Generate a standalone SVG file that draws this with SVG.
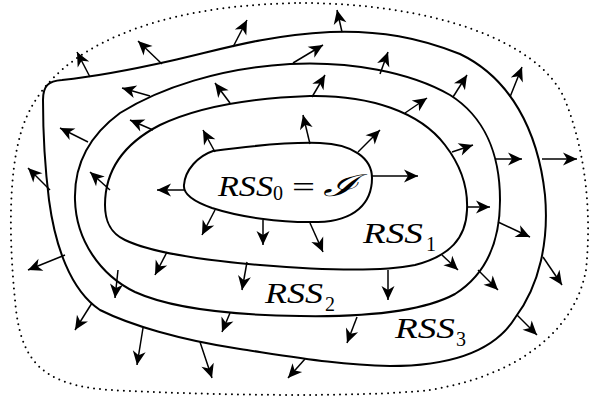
<svg xmlns="http://www.w3.org/2000/svg" width="589" height="399" viewBox="0 0 589 399">
<style>
.set{fill:none;stroke:#000;stroke-width:2;stroke-linejoin:round}
.bound{fill:none;stroke:#000;stroke-width:2;stroke-dasharray:0 6;stroke-linecap:round}
.arr line{stroke:#000;stroke-width:1.5;marker-end:url(#ah)}
.lbl{font-family:"Liberation Serif","DejaVu Serif",serif;font-style:italic;font-size:30px;fill:#000}
.sub{font-family:"Liberation Serif","DejaVu Serif",serif;font-size:20px;fill:#000}
.op{font-family:"Liberation Serif","DejaVu Serif",serif;font-size:30px;fill:#000}
</style>
<defs>
<marker id="ah" markerUnits="userSpaceOnUse" markerWidth="18" markerHeight="18" viewBox="-16 -9 18 18" refX="0" refY="0" orient="auto">
<path d="M0,0 L-14,-6.5 L-10,0 L-14,6.5 Z" fill="#000"/>
</marker>
</defs>
<rect width="589" height="399" fill="#fff"/>
<g id="boundary">
<path class="bound" d="M 300 3 C 430 3 540 40 565 100 C 585 150 592 210 586 270 C 575 330 520 375 430 390 C 360 398 200 395 110 390 C 40 385 20 360 15 300 C 8 230 8 150 30 110 C 60 50 150 5 300 3 Z"/>
</g>
<g id="rss3">
<path class="set" d="M 43 100 C 43 86 48 81 62 80 C 100 76 130 70 170 61 C 220 50 260 36 330 32 C 380 30 420 38 460 54 C 510 78 538 130 545 195 C 549 240 540 285 515 318 C 495 350 455 366 390 366 C 340 365 300 358 240 349 C 180 340 130 325 100 310 C 70 290 55 245 49 200 C 44 160 43 120 43 100 Z"/>
<text class="lbl" x="395" y="338" textLength="60" lengthAdjust="spacingAndGlyphs">RSS</text>
<text class="sub" x="456" y="346">3</text>
</g>
<g id="rss2">
<path class="set" d="M 75 200 C 74 168 86 138 120 113 C 160 88 220 68 290 64 C 350 61 410 72 450 95 C 485 117 500 155 500 200 C 500 245 485 275 455 294 C 420 313 360 317 300 316 C 230 315 170 308 135 292 C 100 275 76 240 75 200 Z"/>
<text class="lbl" x="265" y="303" textLength="58" lengthAdjust="spacingAndGlyphs">RSS</text>
<text class="sub" x="325" y="311">2</text>
</g>
<g id="rss1">
<path class="set" d="M 105 205 C 105 170 125 143 160 125 C 200 106 250 98 310 96 C 370 95 420 112 445 145 C 462 167 468 190 467 210 C 466 238 450 256 415 265 C 380 272 320 270 260 265 C 200 260 150 252 125 240 C 108 232 105 218 105 205 Z"/>
<text class="lbl" x="363" y="243" textLength="60" lengthAdjust="spacingAndGlyphs">RSS</text>
<text class="sub" x="426" y="251">1</text>
</g>
<g id="rss0">
<path class="set" d="M 213 151 C 250 146 290 142 320 143 C 352 144 372 158 372 178 C 372 203 355 221 318 222 C 280 223 240 217 212 208 C 192 201 183 193 184 185 C 185 170 198 156 213 151 Z"/>
<text class="lbl" x="218" y="196" textLength="55" lengthAdjust="spacingAndGlyphs">RSS</text>
<text class="sub" x="273" y="200">0</text>
<text class="op" x="292" y="197" textLength="23" lengthAdjust="spacingAndGlyphs">=</text>
<text class="lbl" x="323" y="196" textLength="34" lengthAdjust="spacingAndGlyphs">ℐ</text>
</g>
<g id="connectors" class="arr">
<line x1="90" y1="77" x2="77" y2="52"/>
<line x1="162" y1="64" x2="138" y2="41"/>
<line x1="233" y1="47" x2="247" y2="20"/>
<line x1="50" y1="190" x2="28" y2="168"/>
<line x1="88" y1="142" x2="60" y2="128"/>
<line x1="150" y1="96" x2="122" y2="88"/>
<line x1="153" y1="130" x2="130" y2="120"/>
<line x1="110" y1="190" x2="90" y2="172"/>
<line x1="230" y1="103" x2="215" y2="83"/>
<line x1="215" y1="152" x2="203" y2="130"/>
<line x1="185" y1="190" x2="157" y2="190"/>
<line x1="342" y1="32" x2="337" y2="10"/>
<line x1="293" y1="63" x2="323" y2="45"/>
<line x1="380" y1="74" x2="388" y2="52"/>
<line x1="453" y1="97" x2="467" y2="75"/>
<line x1="510" y1="97" x2="522" y2="67"/>
<line x1="312" y1="97" x2="325" y2="75"/>
<line x1="405" y1="113" x2="427" y2="98"/>
<line x1="452" y1="152" x2="473" y2="145"/>
<line x1="310" y1="144" x2="303" y2="115"/>
<line x1="358" y1="152" x2="380" y2="130"/>
<line x1="372" y1="176" x2="418" y2="176"/>
<line x1="495" y1="159" x2="522" y2="159"/>
<line x1="542" y1="159" x2="577" y2="159"/>
<line x1="215" y1="210" x2="202" y2="235"/>
<line x1="263" y1="220" x2="263" y2="245"/>
<line x1="167" y1="252" x2="155" y2="275"/>
<line x1="247" y1="262" x2="242" y2="290"/>
<line x1="118" y1="270" x2="115" y2="298"/>
<line x1="230" y1="313" x2="222" y2="332"/>
<line x1="65" y1="255" x2="28" y2="270"/>
<line x1="92" y1="303" x2="75" y2="330"/>
<line x1="143" y1="328" x2="137" y2="365"/>
<line x1="200" y1="342" x2="212" y2="378"/>
<line x1="305" y1="359" x2="288" y2="378"/>
<line x1="310" y1="223" x2="323" y2="252"/>
<line x1="467" y1="207" x2="490" y2="207"/>
<line x1="498" y1="222" x2="530" y2="237"/>
<line x1="543" y1="257" x2="562" y2="285"/>
<line x1="442" y1="255" x2="458" y2="270"/>
<line x1="478" y1="270" x2="498" y2="290"/>
<line x1="388" y1="270" x2="388" y2="300"/>
<line x1="357" y1="317" x2="347" y2="343"/>
<line x1="517" y1="315" x2="537" y2="335"/>
</g>
</svg>
